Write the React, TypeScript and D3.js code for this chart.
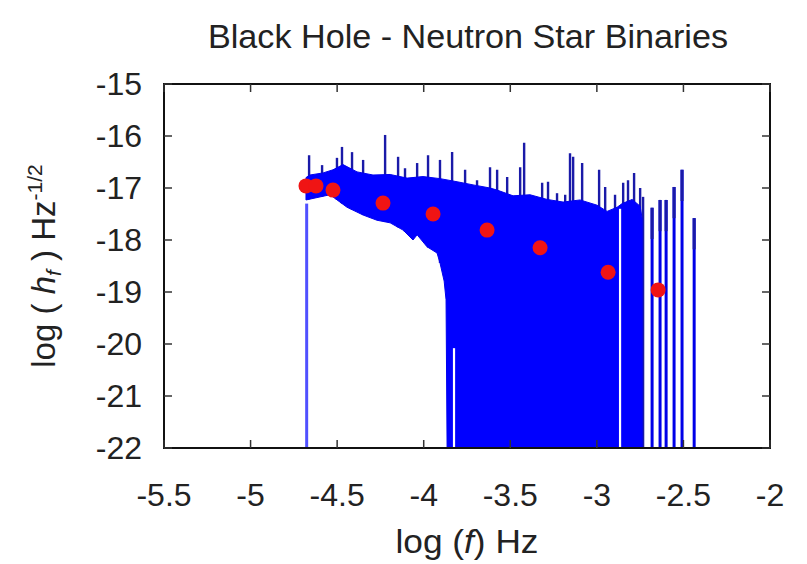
import React from "react";
import * as d3 from "d3";

// ---- data ----
const xTicks = [-5.5, -5, -4.5, -4, -3.5, -3, -2.5, -2];
const yTicks = [-15, -16, -17, -18, -19, -20, -21, -22];

// upper edge of the dense blue band (log f, log h)
const bodyUpperX = [-4.68, -4.657, -4.581, -4.524, -4.466, -4.385, -4.293, -4.194, -4.096, -4.004, -3.906, -3.807, -3.715, -3.617, -3.576, -3.484, -3.386, -3.287, -3.195, -3.097, -2.999, -2.941, -2.883, -2.854, -2.796, -2.75, -2.738];
const bodyUpperY = [-16.8, -16.75, -16.71, -16.65, -16.55, -16.69, -16.75, -16.74, -16.81, -16.78, -16.82, -16.88, -16.94, -17.0, -17.04, -17.15, -17.13, -17.22, -17.27, -17.23, -17.33, -17.45, -17.37, -17.3, -17.22, -17.35, -17.6];
// lower edge of the dense blue band
const bodyLowerX = [-4.68, -4.541, -4.443, -4.35, -4.27, -4.194, -4.119, -4.062, -4.038, -3.981, -3.923, -3.906, -3.882, -3.871, -3.865];
const bodyLowerY = [-17.23, -17.13, -17.37, -17.52, -17.62, -17.67, -17.81, -18.0, -17.9, -18.13, -18.25, -18.44, -18.79, -19.15, -22];
const bodyRightX = -2.738;

// narrow spikes above the band
const spikeX = [-4.662, -4.587, -4.501, -4.472, -4.414, -4.35, -4.223, -4.148, -4.108, -4.038, -3.975, -3.906, -3.836, -3.761, -3.692, -3.617, -3.576, -3.518, -3.443, -3.42, -3.316, -3.282, -3.23, -3.183, -3.155, -3.137, -3.085, -2.987, -2.952, -2.895, -2.848, -2.82, -2.785, -2.75, -2.733];
const spikeTop = [-16.37, -16.56, -16.42, -16.21, -16.31, -16.46, -15.98, -16.4, -16.62, -16.52, -16.37, -16.46, -16.31, -16.65, -16.85, -16.6, -16.65, -16.79, -16.6, -16.13, -16.9, -16.88, -17.1, -17.13, -16.33, -16.4, -16.52, -16.65, -16.98, -17.13, -16.9, -16.85, -16.71, -17.0, -17.17];

// isolated full-height lines on the right
const lineX = [-2.681, -2.635, -2.6, -2.554, -2.508, -2.438];
const lineTop = [-17.38, -17.23, -17.23, -16.98, -16.65, -17.58];

// lone line at the left
const loneX = -4.676;
const loneTop = -17.3;

// white gaps inside the band
const gapX = [-3.825, -2.866];
const gapTop = [-20.08, -17.4];

// red points
const redX = [-4.68, -4.622, -4.524, -4.235, -3.946, -3.634, -3.328, -2.935, -2.646];
const redY = [-16.96, -16.96, -17.04, -17.29, -17.5, -17.81, -18.15, -18.62, -18.96];

const W = 807;
const H = 564;
const L = 164, R = 770, T = 84, B = 448;
const FONT = "'Liberation Sans', Arial, Helvetica, sans-serif";

export default function App() {
  const x = d3.scaleLinear().domain([-5.5, -2]).range([L, R]);
  const y = d3.scaleLinear().domain([-22, -15]).range([B, T]);
  const lowerAt = d3.scaleLinear().domain(bodyLowerX).range(bodyLowerY).clamp(true);

  const poly: [number, number][] = [];
  bodyUpperX.forEach((v, i) => poly.push([v, bodyUpperY[i]]));
  poly.push([bodyRightX, -22]);
  for (let i = bodyLowerX.length - 1; i >= 0; i--) poly.push([bodyLowerX[i], bodyLowerY[i]]);
  const area = d3.line<[number, number]>().x((d) => x(d[0])).y((d) => y(d[1]));
  const bodyPath = area(poly) + "Z";

  const tick = 8;
  return (
    <svg width={W} height={H} style={{ position: "absolute", left: 0, top: 0, background: "#fff" }}>
      <rect x={0} y={0} width={W} height={H} fill="#fff" />
      <text x={468} y={48} textAnchor="middle" fontFamily={FONT} fontSize={33} fill="#222" textLength={520} lengthAdjust="spacingAndGlyphs">
        Black Hole - Neutron Star Binaries
      </text>

      {/* data */}
      <line x1={x(loneX)} x2={x(loneX)} y1={y(-22)} y2={y(loneTop)} stroke="#5050ff" strokeWidth={3} />
      {spikeX.map((v, i) => (
        <line key={"s" + i} x1={x(v)} x2={x(v)} y1={y(spikeTop[i])} y2={y(lowerAt(v))} stroke="#1a1aa8" strokeWidth={2.4} />
      ))}
      <path d={bodyPath} fill="#0000ff" stroke="#0000f0" strokeWidth={1} />
      {lineX.map((v, i) => (
        <g key={"l" + i}>
          <line x1={x(v)} x2={x(v)} y1={y(lineTop[i])} y2={y(-22)} stroke="#0000e8" strokeWidth={3} />
          <line x1={x(v)} x2={x(v)} y1={y(lineTop[i])} y2={y(lineTop[i] - 0.6)} stroke="#1a1aa8" strokeWidth={3} />
        </g>
      ))}
      {gapX.map((v, i) => (
        <line key={"g" + i} x1={x(v)} x2={x(v)} y1={y(gapTop[i])} y2={y(-22)} stroke="#fff" strokeWidth={2.2} />
      ))}
      {redX.map((v, i) => (
        <circle key={"r" + i} cx={x(v)} cy={y(redY[i])} r={7.5} fill="#f01414" />
      ))}

      {/* frame and ticks */}
      <rect x={L} y={T} width={R - L} height={B - T} fill="none" stroke="#111" strokeWidth={2} />
      {xTicks.map((t) => (
        <g key={"xt" + t}>
          <line x1={x(t)} x2={x(t)} y1={B} y2={B - tick} stroke="#333" strokeWidth={1.5} />
          <line x1={x(t)} x2={x(t)} y1={T} y2={T + tick} stroke="#333" strokeWidth={1.5} />
          <text x={x(t)} y={506} textAnchor="middle" fontFamily={FONT} fontSize={32} fill="#222">
            {t}
          </text>
        </g>
      ))}
      {yTicks.map((t) => (
        <g key={"yt" + t}>
          <line x1={L} x2={L + tick} y1={y(t)} y2={y(t)} stroke="#333" strokeWidth={1.5} />
          <line x1={R} x2={R - tick} y1={y(t)} y2={y(t)} stroke="#333" strokeWidth={1.5} />
          <text x={142} y={y(t) + 11} textAnchor="end" fontFamily={FONT} fontSize={32} fill="#222">
            {t}
          </text>
        </g>
      ))}

      {/* axis labels */}
      <text x={467} y={553} textAnchor="middle" fontFamily={FONT} fontSize={33} fill="#222" textLength={143} lengthAdjust="spacingAndGlyphs">
        log (<tspan fontStyle="italic">f</tspan>) Hz
      </text>
      <text transform="translate(55,266) rotate(-90)" textAnchor="middle" fontFamily={FONT} fontSize={33} fill="#222">
        log ( <tspan fontStyle="italic">h</tspan>
        <tspan fontStyle="italic" fontSize={21} dy={6}>f</tspan>
        <tspan dy={-6}> ) Hz</tspan>
        <tspan fontSize={21} dy={-13}>-1/2</tspan>
      </text>
    </svg>
  );
}
